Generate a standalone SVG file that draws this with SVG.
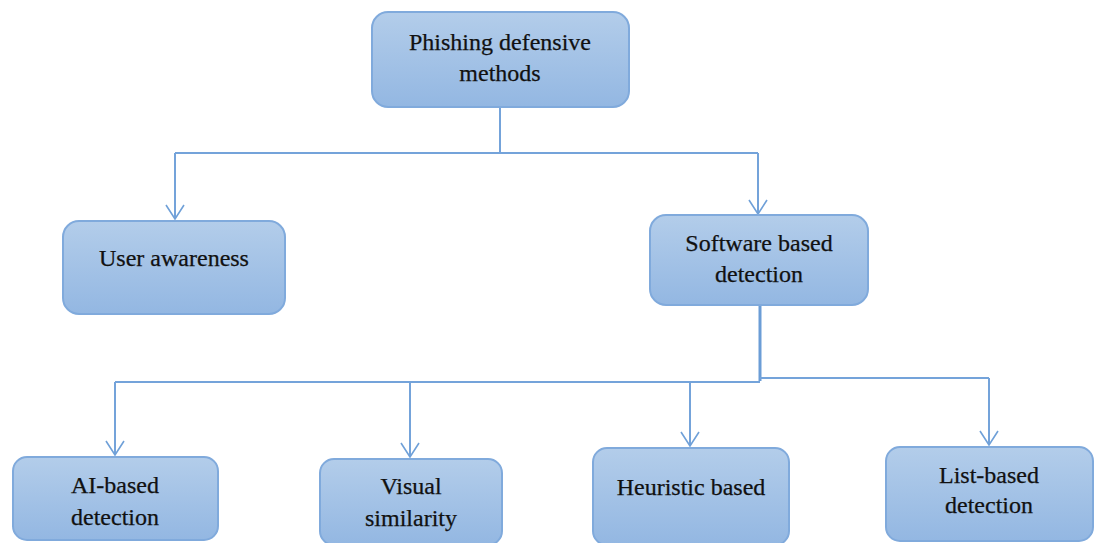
<svg xmlns="http://www.w3.org/2000/svg" width="1095" height="543" viewBox="0 0 1095 543">
  <defs>
    <linearGradient id="boxFill" x1="0" y1="0" x2="0" y2="1">
      <stop offset="0" stop-color="#b3cdea"/>
      <stop offset="1" stop-color="#93b7e2"/>
    </linearGradient>
    <!-- open chevron arrowhead; tip points along the marker x-axis -->
    <marker id="arrow" viewBox="0 0 16 20" refX="15" refY="10" markerWidth="16" markerHeight="20" markerUnits="userSpaceOnUse" orient="auto">
      <path d="M1 1 L15 10 L1 19" fill="none" stroke="#6fa0d8" stroke-width="1.6"/>
    </marker>
  </defs>
  <style>
    .box { fill: url(#boxFill); stroke: #80aadc; stroke-width: 2; }
    .label { font-family: "Liberation Serif", "Times New Roman", serif; font-size: 24px; fill: #111; stroke: #111; stroke-width: 0.25; text-anchor: middle; }
    .conn { fill: none; stroke: #74a3da; stroke-width: 2; }
    .conn-thick { fill: none; stroke: #6b9dd6; stroke-width: 3; }
  </style>
  <rect width="1095" height="543" fill="#ffffff"/>

  <g id="connectors">
    <!-- root to first level -->
    <path class="conn" d="M500 107 V153"/>
    <path class="conn" d="M175 153 H758"/>
    <path class="conn" d="M175 153 V219" marker-end="url(#arrow)"/>
    <path class="conn" d="M758 153 V214" marker-end="url(#arrow)"/>
    <!-- software based detection to its children -->
    <path class="conn-thick" d="M760 305 V381"/>
    <path class="conn" d="M115 382 H760"/>
    <path class="conn" d="M760 378 H989"/>
    <path class="conn" d="M115 382 V455" marker-end="url(#arrow)"/>
    <path class="conn" d="M410 382 V457" marker-end="url(#arrow)"/>
    <path class="conn" d="M690 382 V446" marker-end="url(#arrow)"/>
    <path class="conn" d="M989 378 V445" marker-end="url(#arrow)"/>
  </g>

  <g id="node-root">
    <rect class="box" x="372" y="12" width="257" height="95" rx="16"/>
    <text class="label" x="500" y="50">Phishing defensive</text>
    <text class="label" x="500" y="81">methods</text>
  </g>

  <g id="node-user-awareness">
    <rect class="box" x="63" y="221" width="222" height="93" rx="16"/>
    <text class="label" x="174" y="266">User awareness</text>
  </g>

  <g id="node-software">
    <rect class="box" x="650" y="215" width="218" height="90" rx="16"/>
    <text class="label" x="759" y="251">Software based</text>
    <text class="label" x="759" y="282">detection</text>
  </g>

  <g id="node-ai">
    <rect class="box" x="13" y="457" width="205" height="83" rx="14"/>
    <text class="label" x="115" y="493">AI-based</text>
    <text class="label" x="115" y="525">detection</text>
  </g>

  <g id="node-visual">
    <rect class="box" x="320" y="459" width="182" height="86" rx="14"/>
    <text class="label" x="411" y="494">Visual</text>
    <text class="label" x="411" y="526">similarity</text>
  </g>

  <g id="node-heuristic">
    <rect class="box" x="593" y="448" width="196" height="97" rx="14"/>
    <text class="label" x="691" y="495">Heuristic based</text>
  </g>

  <g id="node-list">
    <rect class="box" x="886" y="447" width="207" height="94" rx="14"/>
    <text class="label" x="989" y="483">List-based</text>
    <text class="label" x="989" y="513">detection</text>
  </g>
</svg>
